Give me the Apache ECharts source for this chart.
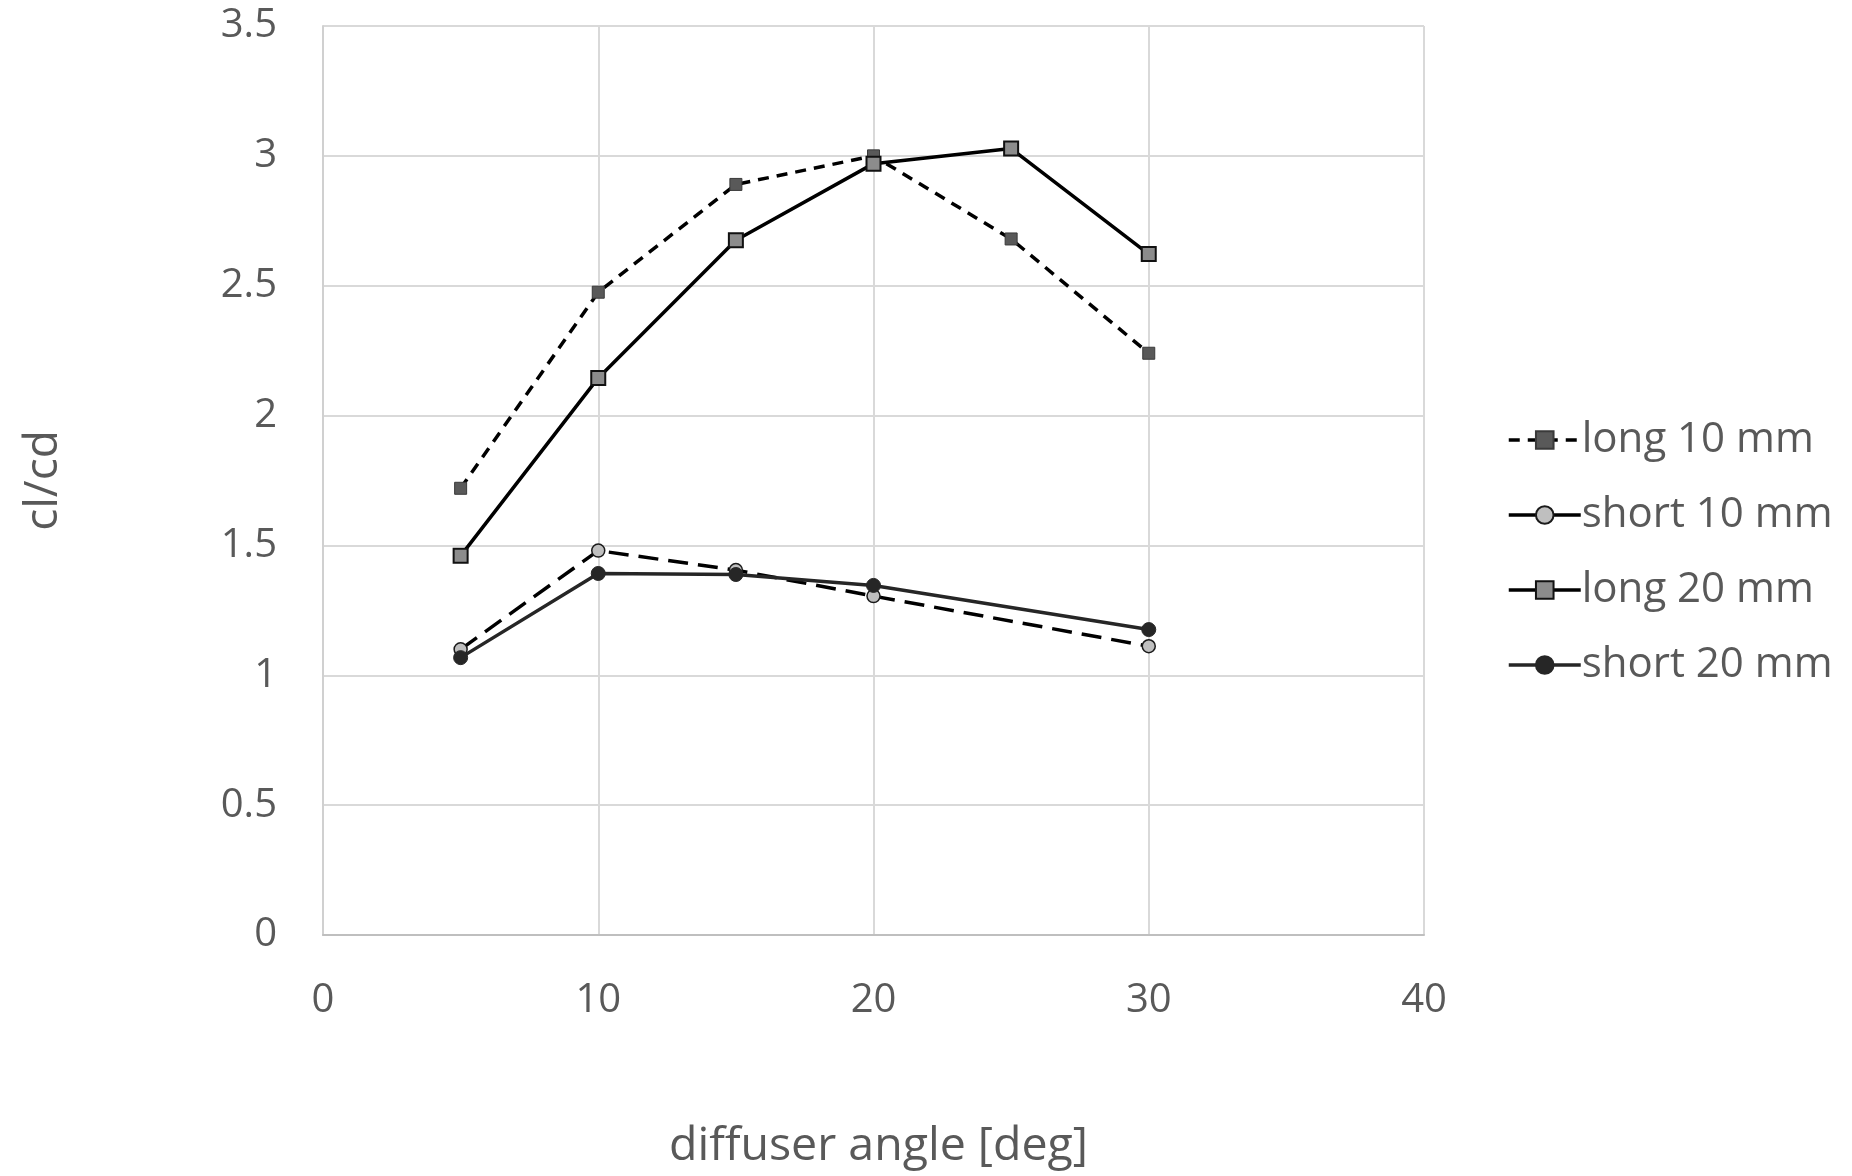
<!DOCTYPE html>
<html>
<head>
<meta charset="utf-8">
<script src="https://cdn.jsdelivr.net/npm/echarts@6/dist/echarts.min.js"></script>
<style>
html,body{margin:0;padding:0;background:#fff;}
#c{width:1852px;height:1176px;}
</style>
</head>
<body>
<div id="c"></div>
<script>
var angles = [5, 10, 15, 20, 25, 30];
var anglesShort = [5, 10, 15, 20, 30];
var long10 = [1.72, 2.475, 2.89, 3.0, 2.68, 2.24];
var short10 = [1.10, 1.48, 1.405, 1.305, 1.112];
var long20 = [1.46, 2.145, 2.675, 2.97, 3.028, 2.622];
var short20 = [1.068, 1.392, 1.388, 1.346, 1.176];
var xTicks = [0, 10, 20, 30, 40];
var yTicks = [0, 0.5, 1, 1.5, 2, 2.5, 3, 3.5];
var seriesNames = ['long 10 mm', 'short 10 mm', 'long 20 mm', 'short 20 mm'];

function pairs(xs, ys){ return xs.map(function(x,i){ return [x, ys[i]]; }); }

var FONT = '"Open Sans", sans-serif';
var TXT = '#595959';

var chart = echarts.init(document.getElementById('c'), null, {renderer:'canvas'});
chart.setOption({
  animation: false,
  backgroundColor: '#ffffff',
  textStyle: {fontFamily: FONT},
  grid: {left: 323, right: 428, top: 26, bottom: 241, containLabel: false},
  xAxis: {
    type: 'value', min: xTicks[0], max: xTicks[xTicks.length-1], interval: 10,
    name: 'diffuser angle [deg]', nameLocation: 'middle', nameGap: 188,
    nameTextStyle: {fontFamily: FONT, fontSize: 46.5, color: TXT, padding: [0,0,0,10]},
    axisLine: {show: true, lineStyle: {color: '#bfbfbf', width: 2}},
    axisTick: {show: false},
    axisLabel: {fontFamily: FONT, fontSize: 40, color: TXT, margin: 46},
    splitLine: {show: true, lineStyle: {color: '#d9d9d9', width: 2}}
  },
  yAxis: {
    type: 'value', min: yTicks[0], max: yTicks[yTicks.length-1], interval: 0.5,
    name: 'cl/cd', nameLocation: 'middle', nameGap: 256,
    nameTextStyle: {fontFamily: FONT, fontSize: 46, color: TXT},
    axisLine: {show: true, lineStyle: {color: '#d0d0d0', width: 2}},
    axisTick: {show: false},
    axisLabel: {fontFamily: FONT, fontSize: 40, color: TXT, margin: 46},
    splitLine: {show: true, lineStyle: {color: '#d9d9d9', width: 2}}
  },
  legend: {
    orient: 'vertical', left: 1502, top: 414,
    itemWidth: 72, itemHeight: 22, itemGap: 33,
    textStyle: {fontFamily: FONT, fontSize: 42, color: TXT, padding: [0,0,0,-4]},
    data: [
      {name: seriesNames[0], lineStyle: {width: 3.5}},
      {name: seriesNames[1], lineStyle: {type: 'solid', width: 3.5}},
      {name: seriesNames[2], lineStyle: {width: 3.5}},
      {name: seriesNames[3], lineStyle: {width: 3.5}}
    ]
  },
  series: [
    {
      name: seriesNames[0], type: 'line', data: pairs(angles, long10),
      symbol: 'rect', symbolSize: 12,
      lineStyle: {color: '#000', width: 3.5, type: [11, 8]},
      itemStyle: {color: '#595959', borderColor: '#3a3a3a', borderWidth: 1},
      z: 3
    },
    {
      name: seriesNames[1], type: 'line', data: pairs(anglesShort, short10),
      symbol: 'circle', symbolSize: 13,
      lineStyle: {color: '#000', width: 3.5, type: [20, 10]},
      itemStyle: {color: '#bfbfbf', borderColor: '#1a1a1a', borderWidth: 1.5},
      z: 2
    },
    {
      name: seriesNames[2], type: 'line', data: pairs(angles, long20),
      symbol: 'rect', symbolSize: 14,
      lineStyle: {color: '#000', width: 3.5},
      itemStyle: {color: '#8c8c8c', borderColor: '#111', borderWidth: 2},
      z: 4
    },
    {
      name: seriesNames[3], type: 'line', data: pairs(anglesShort, short20),
      symbol: 'circle', symbolSize: 14,
      lineStyle: {color: '#262626', width: 3.5},
      itemStyle: {color: '#262626', borderColor: '#262626', borderWidth: 1},
      z: 3
    }
  ]
});
</script>
</body>
</html>
